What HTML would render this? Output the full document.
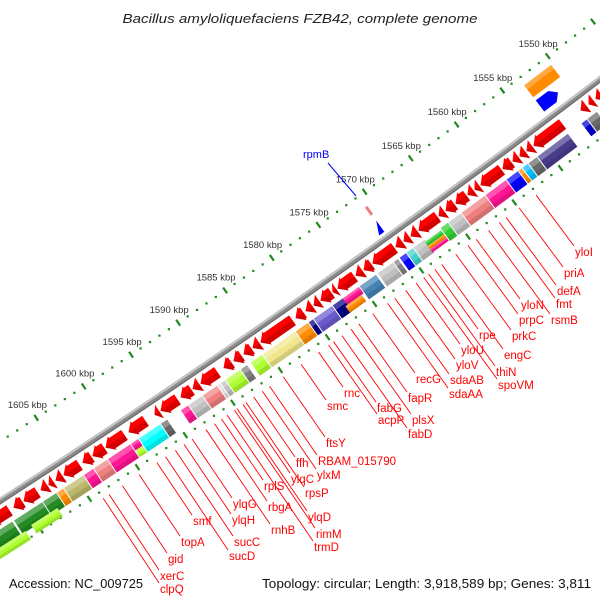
<!DOCTYPE html>
<html><head><meta charset="utf-8">
<style>
html,body{margin:0;padding:0;background:#fff;width:600px;height:600px;overflow:hidden;}
svg{display:block;font-family:"Liberation Sans",sans-serif;overflow:hidden;}
</style></head>
<body>
<svg id="s" width="600" height="600" viewBox="0 0 600 600" xmlns="http://www.w3.org/2000/svg">
<defs><clipPath id="cp"><rect width="600" height="600"/></clipPath></defs>
<rect width="600" height="600" fill="#fff"/>
<g id="g" clip-path="url(#cp)"></g>
<text x="300" y="23" text-anchor="middle" font-size="13" font-style="italic" fill="#222" textLength="355" lengthAdjust="spacingAndGlyphs">Bacillus amyloliquefaciens FZB42, complete genome</text>
<text x="9" y="588" font-size="12.5" fill="#111" textLength="134" lengthAdjust="spacingAndGlyphs">Accession: NC_009725</text>
<text x="591" y="588" text-anchor="end" font-size="12.5" fill="#111" textLength="329" lengthAdjust="spacingAndGlyphs">Topology: circular; Length: 3,918,589 bp; Genes: 3,811</text>
</svg>
<script>
(function(){
var NS="http://www.w3.org/2000/svg",g=document.getElementById('g');
var C=[-4953,-7183],R=9139;
function P(t,r){return [C[0]+r*Math.cos(t),C[1]+r*Math.sin(t)];}
function f(p){return p[0].toFixed(2)+','+p[1].toFixed(2);}
function ax(x,r){return Math.acos((x-C[0])/r);}
function el(n,a,txt){var e=document.createElementNS(NS,n);for(var k in a)e.setAttribute(k,a[k]);if(txt)e.textContent=txt;g.appendChild(e);return e;}
function sector(t1,t2,r1,r2,fill,op){
 var d='M'+f(P(t1,r1))+'A'+r1+' '+r1+' 0 0 1 '+f(P(t2,r1))+'L'+f(P(t2,r2))+'A'+r2+' '+r2+' 0 0 0 '+f(P(t1,r2))+'Z';
 el('path',{d:d,fill:fill,'fill-opacity':op==null?1:op});
}
function poly(pts,fill,op){el('polygon',{points:pts.map(f).join(' '),fill:fill,'fill-opacity':op==null?1:op});}
var D=Math.PI/180;
function kth(k){return (52.77+(k-1550)*0.0718)*D;}
var ta=51.5*D,tb=57.9*D;
sector(ta,tb,R,R+6,'#8a8a8a');
sector(ta,tb,R,R+2.2,'#c4c4c4');
sector(ta,tb,R+4.8,R+6,'#6e6e6e');
for(var k=1544;k<=1614;k++){
 var t=kth(k);
 [R-47,R+50].forEach(function(r){
  if(k%5==0){var a=P(t,r-3.5),b=P(t,r+3.5);el('line',{x1:a[0],y1:a[1],x2:b[0],y2:b[1],stroke:'#1f8a1f','stroke-width':2.2});}
  else{var p=P(t,r);el('rect',{x:p[0]-1,y:p[1]-1,width:2.2,height:2.2,fill:'#1f8a1f'});}
 });
 if(k%5==0&&k>=1550&&k<=1605){var p=P(t,R-63);el('text',{x:p[0],y:p[1]+3.5,'text-anchor':'middle','font-size':9.5,fill:'#333'},k+' kbp');}
}
var arrows=[[580,587],[588,594],[595,602],[533,563],[526,533],[519,526],[512,519],[502,512],[480,502],[474,480],[467,474],[455,467],[445,455],[438,445],[418,438],[410,418],[403,410],[395,403],[372,395],[363,372],[355,363],[337,355],[332,337],[320,332],[313,320],[305,313],[295,304],[260,293],[252,260],[243,252],[233,242],[223,232],[200,218],[192,200],[180,192],[160,178],[154,160],[128,146],[105,125],[92,105],[82,92],[63,80],[55,63],[48,54],[40,48],[23,38],[13,23],[-10,10]];
var ra=R+16;
arrows.forEach(function(a){
 var t1=ax(a[1]-0.5,ra),t2=ax(a[0]+0.5,ra),L=(t2-t1)*ra,h=Math.min(8,L),tn=t2-h/ra;
 var pts;
 if(L-h<1){pts=[P(t1,R+8),P(t2,R+16),P(t1,R+24)];}
 else pts=[P(t1,R+10),P(tn,R+10),P(tn,R+8),P(t2,R+16),P(tn,R+24),P(tn,R+22),P(t1,R+22)];
 poly(pts,'#ff0000');
 var lo=(L-h<1)?[P(t1,R+16),P(t2,R+16),P(t1,R+24)]:[P(t1,R+16),P(t2,R+16),P(tn,R+24),P(tn,R+22),P(t1,R+22)];
 poly(lo,'#a00000',0.45);
});
var rb=R+35;
function box(xa,xb,col,r1,r2){
 r1=r1||R+27;r2=r2||R+43;
 var t1=ax(xb-0.4,rb),t2=ax(xa+0.4,rb);
 sector(t1,t2,r1,r2,col);
 sector(t1,t2,r1,r1+(r2-r1)*0.35,'#ffffff',0.28);
 sector(t1,t2,r2-(r2-r1)*0.3,r2,'#000000',0.12);
}
var boxes=[[586,592,'#0000cd'],[592,602,'#696969'],[542,573,'#483d8b'],[533,542,'#696969'],[527,533,'#00bfff'],[523,527,'#ff8c00'],[511,523,'#0000ff'],[490,511,'#ff1493'],[466,490,'#f08080'],[453,466,'#c0c0c0'],[445,453,'#32cd32'],[418,430,'#c0c0c0'],[411,418,'#48d1cc'],[404,411,'#0000ff'],
[382,398,'#c0c0c0'],[398,403,'#808080'],[364,381,'#4682b4'],[313,318,'#000080'],[318,337,'#6a5acd'],[337,348,'#000080'],[300,313,'#ff8c00'],[267,300,'#f0e68c'],[255,267,'#adff2f'],
[245,252,'#808080'],[230,245,'#adff2f'],[225,230,'#c0c0c0'],[222,225,'#dcdcdc'],[207,222,'#f08080'],[193,207,'#c0c0c0'],[185,193,'#ff1493'],
[165,172,'#696969'],[143,165,'#00ffff'],[112,135,'#ff1493'],[98,112,'#f08080'],[88,98,'#ff1493'],[68,88,'#bdb76b'],[61,68,'#ff8c00'],[47,61,'#228b22'],[18,47,'#228b22'],[-10,17,'#228b22']];
boxes.forEach(function(b){box(b[0],b[1],b[2]);});
box(347,364,'#ff1493',R+27,R+35);box(345,362,'#ff8c00',R+35,R+43);
box(135,143,'#ff1493',R+27,R+35);box(135,143,'#adff2f',R+35,R+43);
box(428,445,'#32cd32',R+29,R+34);box(428,445,'#ff8c00',R+34,R+38);box(428,445,'#ff1493',R+38,R+42);
box(28,55,'#adff2f',R+40,R+50);box(-10,22,'#adff2f',R+42,R+52);
(function(){
 var ro=R-30,t1=ax(556,ro),t2=ax(529,ro);sector(t1,t2,R-38,R-23,'#ff8c00');sector(t1,t2,R-38,R-33,'#fff',0.25);
 var rr=R-12,a1=ax(558,rr),a2=ax(540,rr),h=7/rr;
 poly([P(a2,R-19),P(a1+h,R-19),P(a1,R-12),P(a1+h,R-5),P(a2,R-5)],'#0000ff');
 var t=ax(369,R-29);var a=P(t,R-34),b=P(t,R-24);el('line',{x1:a[0],y1:a[1],x2:b[0],y2:b[1],stroke:'#f08080','stroke-width':3});
 var tt=ax(377,R-10),hh=4/(R-10);poly([P(tt-hh,R-17),P(tt+hh*0.6,R-3),P(tt-hh,R-3)],'#0000ff');
 el('line',{x1:328,y1:163,x2:356,y2:196,stroke:'#0000ff','stroke-width':1});
 el('text',{x:303,y:158,'font-size':11,fill:'#0000ff'},'rpmB');
})();
var labs=[['yloI',575,256],['priA',564,277],['defA',557,295],['fmt',556,308],['rsmB',551,324],['yloN',521,309],['prpC',519,324],['prkC',512,340],['engC',504,359],['rpe',479,339],['thiN',496,376],['spoVM',498,389],['yloU',461,354],['yloV',456,369],['sdaAB',450,384],['sdaAA',449,398],['recG',416,383],['fapR',408,402],['plsX',412,424],['fabD',408,438],['fabG',377,412],['acpP',378,424],['rnc',344,397],['smc',327,410],['ftsY',326,447],['RBAM_015790',318,465],['ffh',296,467],['ylxM',317,479],['ylqC',291,483],['rpsP',305,497],['rplS',264,490],['rbgA',268,511],['ylqD',308,521],['rnhB',271,534],['rimM',316,538],['trmD',314,551],['ylqG',233,508],['ylqH',232,524],['sucC',234,546],['sucD',229,560],['smf',193,525],['topA',181,546],['gid',168,563],['xerC',160,580],['clpQ',160,593]];
labs.forEach(function(l){
 var ex=l[1]-1,ey=l[2]-10,dx=ex-C[0],dy=ey-C[1],d=Math.sqrt(dx*dx+dy*dy);
 var sx=C[0]+dx/d*(R+57),sy=C[1]+dy/d*(R+57);
 el('line',{x1:sx,y1:sy,x2:ex,y2:ey,stroke:'#ff0000','stroke-width':0.9});
 el('text',{x:l[1],y:l[2],'font-size':11.5,fill:'#ff0000'},l[0]);
});
})();
</script>
</body></html>
